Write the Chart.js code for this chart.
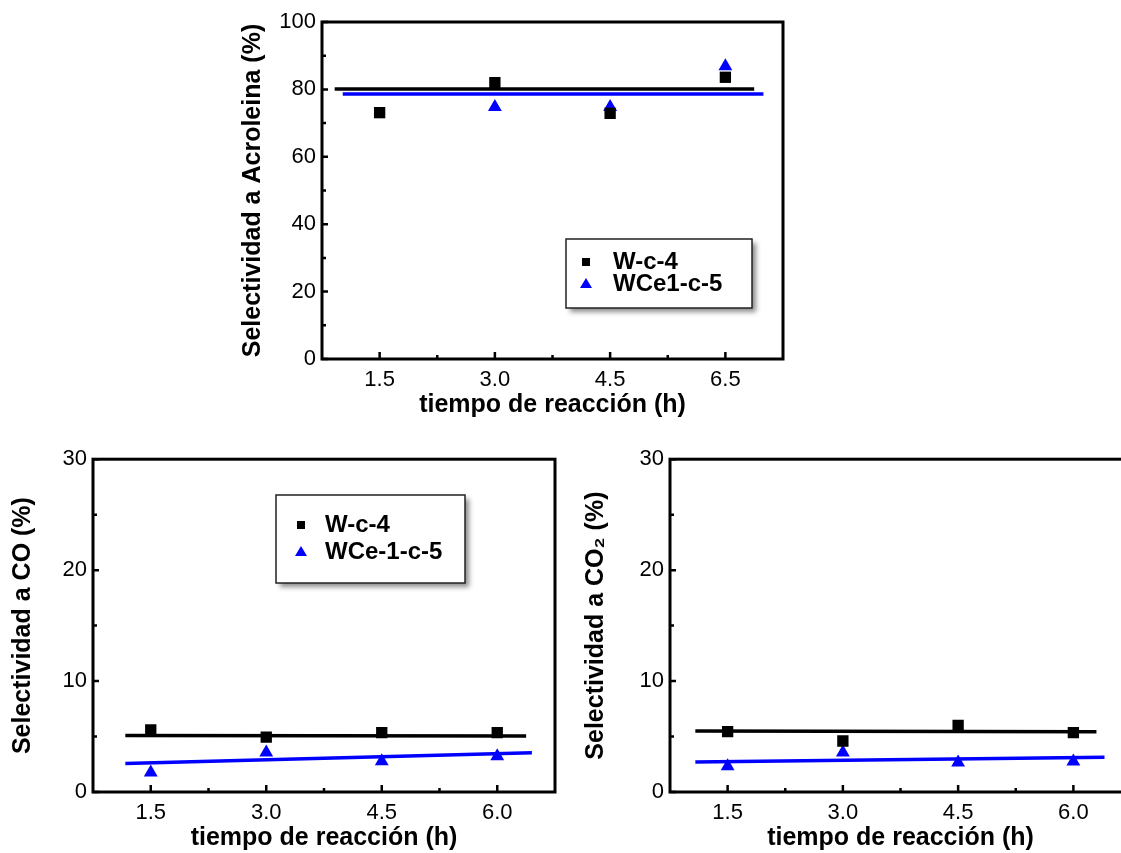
<!DOCTYPE html>
<html>
<head>
<meta charset="utf-8">
<script src="https://cdn.jsdelivr.net/npm/chart.js@4.4.1/dist/chart.umd.min.js"></script>
<style>
  html, body { margin: 0; padding: 0; background: #fff; }
  body { position: relative; width: 1121px; height: 853px; overflow: hidden; }
  canvas { position: absolute; }
</style>
</head>
<body>
<canvas id="acro" width="563" height="420" style="left:230px;top:0px"></canvas>
<canvas id="co" width="564" height="413" style="left:1px;top:440px"></canvas>
<canvas id="co2" width="563" height="413" style="left:578px;top:440px"></canvas>
<script>
// x categories (evenly spaced in the figure)
const acroHours = ["1.5", "3.0", "4.5", "6.5"];
const coHours = ["1.5", "3.0", "4.5", "6.0"];

// selectivity to acrolein (%)
const acroW = [73.1, 82.0, 72.9, 83.6];
const acroWCe = [null, 74.8, 74.8, 86.9];
// fitted lines: [category position, value] at both ends
const acroFitW = [[-0.39, 80.1], [3.25, 80.1]];
const acroFitWCe = [[-0.32, 78.6], [3.33, 78.6]];

// selectivity to CO (%)
const coW = [5.6, 4.95, 5.35, 5.35];
const coWCe = [1.75, 3.57, 2.77, 3.22];
const coFitW = [[-0.22, 5.1], [3.25, 5.05]];
const coFitWCe = [[-0.22, 2.57], [3.3, 3.54]];

// selectivity to CO2 (%)
const co2W = [5.45, 4.6, 6.0, 5.35];
const co2WCe = [2.32, 3.55, 2.67, 2.76];
const co2FitW = [[-0.28, 5.49], [3.2, 5.42]];
const co2FitWCe = [[-0.28, 2.7], [3.27, 3.14]];

const FONT = '"Liberation Sans", Arial, Helvetica, sans-serif';
const BLUE = "#0000ff";
Chart.defaults.font.family = FONT;
Chart.defaults.color = "#000";

const toPoints = (vals) =>
  vals.map((v, i) => ({ x: i, y: v })).filter((p) => p.y !== null);
const toLine = (seg) => seg.map(([x, y]) => ({ x, y }));

// thick box round the plot, with small inward ticks
const framePlugin = {
  id: "frame",
  afterDatasetsDraw(chart) {
    const { ctx, chartArea: a, scales } = chart;
    const x = scales.x, y = scales.y;
    ctx.save();
    ctx.strokeStyle = "#000";
    ctx.lineWidth = 3;
    ctx.strokeRect(a.left, a.top, a.right - a.left, a.bottom - a.top);
    ctx.lineWidth = 2.5;
    ctx.beginPath();
    const xv = x.ticks.map((t) => t.value);
    xv.forEach((v, i) => {
      const px = x.getPixelForValue(v);
      ctx.moveTo(px, a.bottom);
      ctx.lineTo(px, a.bottom - 7);
      if (i < xv.length - 1) {
        const mx = x.getPixelForValue((v + xv[i + 1]) / 2);
        ctx.moveTo(mx, a.bottom);
        ctx.lineTo(mx, a.bottom - 4);
      }
    });
    const yv = y.ticks.map((t) => t.value);
    yv.forEach((v, i) => {
      const py = y.getPixelForValue(v);
      ctx.moveTo(a.left, py);
      ctx.lineTo(a.left + 6, py);
      if (i < yv.length - 1) {
        const my = y.getPixelForValue((v + yv[i + 1]) / 2);
        ctx.moveTo(a.left, my);
        ctx.lineTo(a.left + 4, my);
      }
    });
    ctx.stroke();
    ctx.restore();
  },
};

// boxed legend with drop shadow, placed inside the plot
const boxLegendPlugin = {
  id: "boxLegend",
  afterDraw(chart, args, o) {
    if (!o.box) return;
    const { ctx } = chart;
    const [bx, by, bw, bh] = o.box;
    ctx.save();
    ctx.shadowColor = "rgba(0,0,0,0.45)";
    ctx.shadowBlur = 5;
    ctx.shadowOffsetX = 4;
    ctx.shadowOffsetY = 4;
    ctx.fillStyle = "#fff";
    ctx.fillRect(bx, by, bw, bh);
    ctx.shadowColor = "transparent";
    ctx.strokeStyle = "#222";
    ctx.lineWidth = 1.5;
    ctx.strokeRect(bx, by, bw, bh);
    ctx.font = "bold 24px " + FONT;
    ctx.textBaseline = "middle";
    const items = chart.data.datasets.filter((d) => !d.isFit);
    items.forEach((d, i) => {
      const ry = o.rows[i];
      const mx = o.markerX;
      ctx.fillStyle = d.backgroundColor;
      ctx.beginPath();
      if (d.pointStyle === "rect") {
        ctx.rect(mx - 4, ry - 3, 8, 8);
      } else {
        ctx.moveTo(mx, ry - 5);
        ctx.lineTo(mx + 6, ry + 5);
        ctx.lineTo(mx - 6, ry + 5);
        ctx.closePath();
      }
      ctx.fill();
      ctx.fillStyle = "#000";
      ctx.fillText(d.label, o.textX, ry + 1);
    });
    ctx.restore();
  },
};

function makeChart(id, cfg) {
  const ctx = document.getElementById(id).getContext("2d");
  return new Chart(ctx, {
    type: "scatter",
    data: {
      datasets: [
        {
          label: cfg.names[0],
          data: toPoints(cfg.w),
          pointStyle: "rect",
          pointRadius: 8,
          backgroundColor: "#000",
          borderWidth: 0,
        },
        {
          label: cfg.names[1],
          data: toPoints(cfg.wce),
          pointStyle: "triangle",
          pointRadius: 8,
          backgroundColor: BLUE,
          borderWidth: 0,
        },
        {
          isFit: true,
          data: toLine(cfg.fitW),
          showLine: true,
          pointRadius: 0,
          borderColor: "#000",
          borderWidth: 3.5,
        },
        {
          isFit: true,
          data: toLine(cfg.fitWCe),
          showLine: true,
          pointRadius: 0,
          borderColor: BLUE,
          borderWidth: 3.5,
        },
      ],
    },
    options: {
      responsive: false,
      animation: false,
      layout: { padding: { top: cfg.padTop, right: 10, left: 0, bottom: 0 } },
      plugins: {
        legend: { display: false },
        tooltip: { enabled: false },
        boxLegend: cfg.legend || {},
      },
      scales: {
        x: {
          type: "linear",
          min: -0.5,
          max: 3.5,
          grid: { display: false, drawTicks: false },
          border: { display: false },
          afterBuildTicks: (s) => {
            s.ticks = cfg.hours.map((_, i) => ({ value: i }));
          },
          afterFit: (s) => {
            s.height = 61;
          },
          ticks: {
            padding: 8,
            font: { size: 22 },
            callback: (v) => cfg.hours[v],
          },
          title: {
            display: true,
            text: "tiempo de reacción (h)",
            font: { size: 25, weight: "bold" },
            padding: { top: 0, bottom: 0 },
          },
        },
        y: {
          min: 0,
          max: cfg.yMax,
          grid: { display: false, drawTicks: false },
          border: { display: false },
          afterFit: (s) => {
            s.width = 92;
          },
          ticks: { stepSize: cfg.yStep, padding: 6, font: { size: 22 } },
          title: {
            display: true,
            text: cfg.yTitle,
            font: { size: 25, weight: "bold" },
            padding: { top: cfg.yTitlePad, bottom: 0 },
          },
        },
      },
    },
    plugins: [framePlugin, boxLegendPlugin],
  });
}

makeChart("acro", {
  hours: acroHours,
  names: ["W-c-4", "WCe1-c-5"],
  w: acroW,
  wce: acroWCe,
  fitW: acroFitW,
  fitWCe: acroFitWCe,
  yMax: 100,
  yStep: 20,
  yTitle: "Selectividad a Acroleina (%)",
  yTitlePad: 8,
  padTop: 22,
  legend: { box: [336, 239, 186, 69], markerX: 356, textX: 383, rows: [261, 283] },
});

makeChart("co", {
  hours: coHours,
  names: ["W-c-4", "WCe-1-c-5"],
  w: coW,
  wce: coWCe,
  fitW: coFitW,
  fitWCe: coFitWCe,
  yMax: 30,
  yStep: 10,
  yTitle: "Selectividad a CO (%)",
  yTitlePad: 7,
  padTop: 13,
  legend: { box: [275, 55, 189, 88], markerX: 300, textX: 324, rows: [84, 111] },
});

makeChart("co2", {
  hours: coHours,
  names: ["W-c-4", "WCe-1-c-5"],
  w: co2W,
  wce: co2WCe,
  fitW: co2FitW,
  fitWCe: co2FitWCe,
  yMax: 30,
  yStep: 10,
  yTitle: "Selectividad a CO₂ (%)",
  yTitlePad: 3.5,
  padTop: 13,
});
</script>
</body>
</html>
